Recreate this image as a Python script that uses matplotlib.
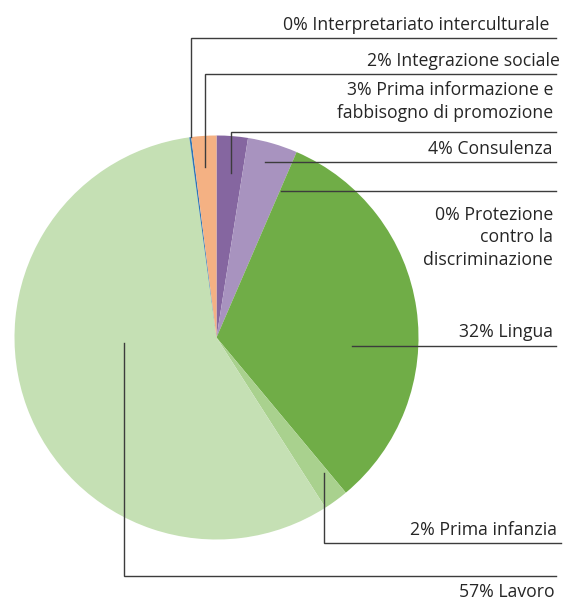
import matplotlib.pyplot as plt

# Settori in senso orario dalle ore 12
labels = [
    "3% Prima informazione e\nfabbisogno di promozione",
    "4% Consulenza",
    "0% Protezione\ncontro la\ndiscriminazione",
    "32% Lingua",
    "2% Prima infanzia",
    "57% Lavoro",
    "0% Interpretariato interculturale",
    "2% Integrazione sociale",
]
values = [2.5, 4.0, 0.0, 32.5, 2.0, 57.0, 0.15, 2.0]
colors = ["#8566a0", "#a893bf", "#7030a0", "#70ad47",
          "#a9d18e", "#c5e0b4", "#2e75b6", "#f4b183"]

# Posizioni delle linee di richiamo (pixel, y verso il basso)
# punto nel settore, y della linea orizzontale, fine linea, x testo, baseline prima riga
leaders = [
    ((231, 173), 132, 556, 553, 95),
    ((265, 162), 162, 556, 553, 154),
    ((281, 191), 191, 556, 553, 220),
    ((352, 346), 346, 556, 553, 337),
    ((324, 473), 543, 561, 557, 535),
    ((124, 343), 576, 556, 555, 597),
    ((191, 137), 38, 556, 549, 30),
    ((205, 167), 74, 556, 560, 65.5),
]

W, H = 567, 601
fig = plt.figure(figsize=(W / 100, H / 100), dpi=100)
ax = fig.add_axes([0, 0, 1, 1])

ax.pie(values, colors=colors, startangle=-90, counterclock=True,
       center=(216.5, 337.5), radius=202,
       wedgeprops=dict(linewidth=0))

ax.set_xlim(0, W)
ax.set_ylim(H, 0)
ax.set_aspect("equal")
ax.axis("off")

line_col = "#3c3c3c"
for lab, (anchor, ly, xend, tx, base) in zip(labels, leaders):
    ax_, ay = anchor
    if abs(ay - ly) > 1:
        ax.plot([ax_, ax_, xend], [ay, ly, ly], color=line_col, lw=1.0,
                solid_joinstyle="miter")
    else:
        ax.plot([ax_, xend], [ly, ly], color=line_col, lw=1.0)
    for i, row in enumerate(lab.split("\n")):
        ax.text(tx, base + i * 22.5, row, ha="right", va="baseline",
                fontsize=12.7, family=["Open Sans", "DejaVu Sans"],
                color="#262626")

fig.savefig("out.png", dpi=100)
